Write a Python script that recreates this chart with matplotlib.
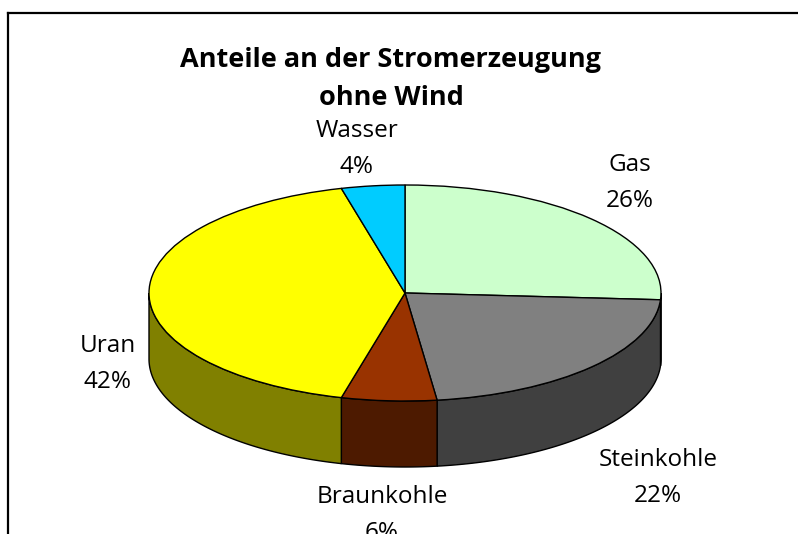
import numpy as np
import matplotlib.pyplot as plt
from matplotlib.colors import to_rgb
from matplotlib.patches import Polygon
from matplotlib.lines import Line2D

plt.rcParams['font.family'] = ['Open Sans', 'DejaVu Sans']

# shares of electricity generation, clockwise from 12 o'clock
sources = ['Gas', 'Steinkohle', 'Braunkohle', 'Uran', 'Wasser']
shares = [26, 22, 6, 42, 4]
top_colors = ['#CCFFCC', '#808080', '#993300', '#FFFF00', '#00CCFF']
title_lines = ['Anteile an der Stromerzeugung', 'ohne Wind']

W, H = 798, 534
cx, cy = 405, 293          # pie centre in pixels
rx, ry = 256, 108          # ellipse radii in pixels
depth = 66 / ry            # thickness in y data units

fig = plt.figure(figsize=(W / 100, H / 100), dpi=100)
ax = fig.add_axes([0, 0, 1, 1])

wedges, _ = ax.pie(shares, colors=top_colors, startangle=90, counterclock=False,
                   wedgeprops=dict(edgecolor='black', linewidth=1.0, zorder=3))

# squash the circle into an ellipse: 1 data unit = rx px in x, ry px in y
ax.set_aspect('auto')
ax.set_xlim(-cx / rx, (W - cx) / rx)
ax.set_ylim((cy - H) / ry, cy / ry)
ax.axis('off')

# front side of the cylinder for every wedge
for w, col in zip(wedges, top_colors):
    t1, t2 = w.theta1 % 360, w.theta2 % 360
    if t2 <= t1:
        t2 += 360
    for lo, hi in [(180, 360), (540, 720)]:
        a, b = max(t1, lo), min(t2, hi)
        if b <= a:
            continue
        t = np.radians(np.linspace(a, b, 80))
        xs, ys = np.cos(t), np.sin(t)
        pts = np.column_stack([np.r_[xs, xs[::-1]], np.r_[ys, ys[::-1] - depth]])
        dark = tuple(0.5 * c for c in to_rgb(col))
        ax.add_patch(Polygon(pts, closed=True, facecolor=dark, edgecolor='black',
                             linewidth=1.0, zorder=2))

# labels: x centre and baseline of the first line, in pixels
label_pos = {'Gas': (630, 171), 'Steinkohle': (658, 466), 'Braunkohle': (382, 503),
             'Uran': (108, 352), 'Wasser': (357, 137)}
line_gap = 36
for name, val in zip(sources, shares):
    px, py = label_pos[name]
    for i, s in enumerate([name, f'{val}%']):
        fig.text(px / W, 1 - (py + i * line_gap) / H, s, ha='center', va='baseline',
                 fontsize=17.5, color='black')

for i, s in enumerate(title_lines):
    fig.text(391 / W, 1 - (67 + i * 38) / H, s, ha='center', va='baseline',
             fontsize=19.5, fontweight='bold')

# chart frame: top and left edge
fig.add_artist(Line2D([7.5 / W, 7.5 / W], [0, 1 - 13 / H], color='black', linewidth=1.6))
fig.add_artist(Line2D([7.5 / W, 1], [1 - 13 / H, 1 - 13 / H], color='black', linewidth=1.6))

fig.savefig('out.png', dpi=100, facecolor='white')
